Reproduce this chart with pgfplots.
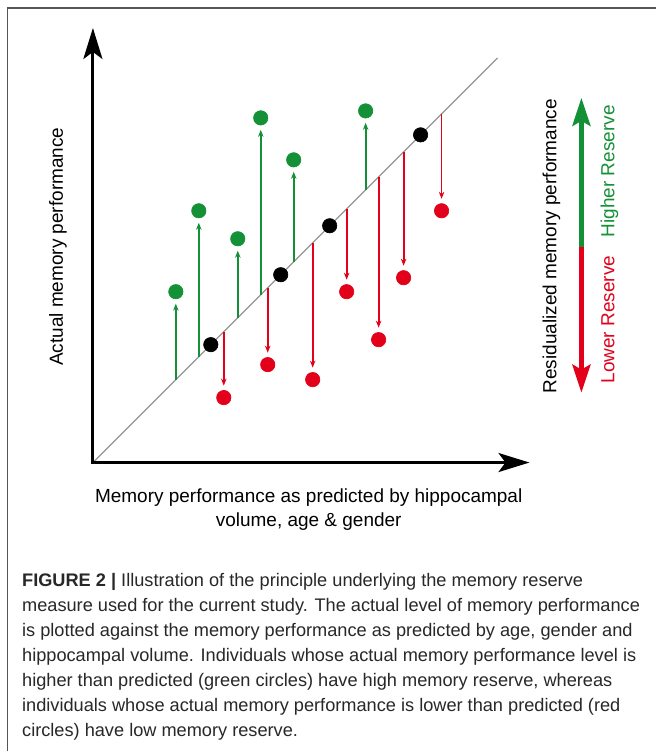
\documentclass[border=0pt]{standalone}
\usepackage{fontspec}
\setmainfont{Liberation Sans}
\usepackage{pgfplots}
\pgfplotsset{compat=1.18}
\usetikzlibrary{arrows.meta}
\definecolor{resgreen}{RGB}{20,145,55}
\definecolor{resred}{RGB}{226,0,26}
\definecolor{capgray}{RGB}{40,40,40}
\definecolor{framegray}{RGB}{85,85,85}
\definecolor{diaggray}{RGB}{150,150,150}
\tikzset{
  labtext/.style={inner sep=0pt, font=\fontsize{19}{23}\selectfont},
  captext/.style={inner sep=0pt, anchor=base west, text=capgray, font=\fontsize{18.2}{25}\selectfont},
}
\begin{document}
\begin{tikzpicture}
\fill[white] (0,0) rectangle (657pt,752pt);
\begin{axis}[
  at={(0,0)}, anchor=south west,
  hide axis, scale only axis, x=1pt, y=1pt,
  xmin=-93, xmax=564, ymin=-289, ymax=463,
  enlargelimits=false, clip=false,
]
% frame
\draw[framegray, line width=1.5pt] (axis cs:-85.5,-289) -- (axis cs:-85.5,455) -- (axis cs:564,455);
% diagonal
\addplot[color=diaggray, line width=1.2pt] coordinates {(0,0) (405,405)};
% axes
\addplot[color=black, line width=3pt, line join=miter,
  {Stealth[length=31pt,width=19pt,inset=7pt]}-{Stealth[length=31pt,width=19pt,inset=7pt]}]
  coordinates {(0,435) (0,0) (437,0)};
% higher reserve residuals
\addplot[color=resgreen, line width=1.8pt, -{Stealth[length=7pt,width=5.5pt]}] coordinates {(83,83) (83,159)};
\addplot[color=resgreen, line width=1.8pt, -{Stealth[length=7pt,width=5.5pt]}] coordinates {(106,106) (106,240)};
\addplot[color=resgreen, line width=1.8pt, -{Stealth[length=7pt,width=5.5pt]}] coordinates {(145,145) (145,212)};
\addplot[color=resgreen, line width=1.8pt, -{Stealth[length=7pt,width=5.5pt]}] coordinates {(168,168) (168,333)};
\addplot[color=resgreen, line width=1.8pt, -{Stealth[length=7pt,width=5.5pt]}] coordinates {(201,201) (201,291)};
\addplot[color=resgreen, line width=1.8pt, -{Stealth[length=7pt,width=5.5pt]}] coordinates {(273,273) (273,340)};
% lower reserve residuals
\addplot[color=resred, line width=1.8pt, -{Stealth[length=7pt,width=5.5pt]}] coordinates {(131,131) (131,77)};
\addplot[color=resred, line width=1.8pt, -{Stealth[length=7pt,width=5.5pt]}] coordinates {(175,175) (175,110)};
\addplot[color=resred, line width=1.8pt, -{Stealth[length=7pt,width=5.5pt]}] coordinates {(220,220) (220,95)};
\addplot[color=resred, line width=1.8pt, -{Stealth[length=7pt,width=5.5pt]}] coordinates {(254,254) (254,183)};
\addplot[color=resred, line width=1.8pt, -{Stealth[length=7pt,width=5.5pt]}] coordinates {(286,286) (286,135)};
\addplot[color=resred, line width=1.8pt, -{Stealth[length=7pt,width=5.5pt]}] coordinates {(311,311) (311,197)};
\addplot[color=resred, line width=1.8pt, -{Stealth[length=7pt,width=5.5pt]}] coordinates {(349,349) (349,264)};
% points
\addplot[only marks, mark=*, mark size=7.2pt, color=resgreen, mark options={line width=0.6pt}]
  coordinates {(83,171) (106,252) (145,224) (168,345) (201,303) (273,352)};
\addplot[only marks, mark=*, mark size=7.2pt, color=resred, mark options={line width=0.6pt}]
  coordinates {(131,65) (175,98) (220,83) (254,171) (286,123) (311,185) (349,252)};
\addplot[only marks, mark=*, mark size=7.2pt, color=black, mark options={line width=0.6pt}]
  coordinates {(118,118) (188,188) (237,237) (328,328)};
% residual scale arrow
\addplot[color=resgreen, line width=4.5pt, -{Stealth[length=28pt,width=18pt,inset=5pt]}] coordinates {(489,216) (489,365)};
\addplot[color=resred, line width=4.5pt, -{Stealth[length=28pt,width=18pt,inset=5pt]}] coordinates {(489,216) (489,70)};
% labels
\node[labtext, rotate=90, anchor=base] at (axis cs:-30,216) {Actual memory performance};
\node[labtext, anchor=base] at (axis cs:216,-40) {Memory performance as predicted by hippocampal};
\node[labtext, anchor=base] at (axis cs:216,-64) {volume, age \& gender};
\node[labtext, rotate=90, anchor=base] at (axis cs:464,216.5) {Residualized memory performance};
\node[labtext, rotate=90, anchor=base, text=resgreen] at (axis cs:522,291.5) {Higher Reserve};
\node[labtext, rotate=90, anchor=base, text=resred] at (axis cs:522,143) {Lower Reserve};
% caption
\node[captext] at (axis cs:-71,-124) {\textbf{FIGURE 2 |} Illustration of the principle underlying the memory reserve};
\node[captext] at (axis cs:-71,-149) {measure used for the current study. The actual level of memory performance};
\node[captext] at (axis cs:-71,-174) {is plotted against the memory performance as predicted by age, gender and};
\node[captext] at (axis cs:-71,-199) {hippocampal volume. Individuals whose actual memory performance level is};
\node[captext] at (axis cs:-71,-224) {higher than predicted (green circles) have high memory reserve, whereas};
\node[captext] at (axis cs:-71,-249) {individuals whose actual memory performance is lower than predicted (red};
\node[captext] at (axis cs:-71,-274) {circles) have low memory reserve.};
\end{axis}
\end{tikzpicture}
\end{document}
